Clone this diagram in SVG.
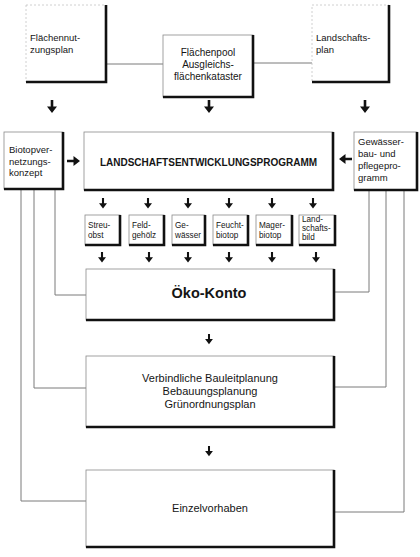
<svg xmlns="http://www.w3.org/2000/svg" xmlns:xlink="http://www.w3.org/1999/xlink" width="420" height="557" viewBox="0 0 420 557">
<style>
text{font-family:"Liberation Sans",Arial,sans-serif;fill:#151515}
.box{fill:#fff;stroke:#8a8a8a;stroke-width:0.8}
.faint{fill:#fff;stroke:#c4c4c4;stroke-width:0.8;stroke-dasharray:2 2}
.sh{fill:none;stroke:#111;stroke-width:2.6}
.con{fill:none;stroke:#7a7a7a;stroke-width:1}
.arr{fill:#111}
.t9{font-size:9.5px}
.t10{font-size:10px}
.t8{font-size:8.2px}
.t11{font-size:11px}
.c{text-anchor:middle}
</style>
<defs>
<path id="ad" d="M-1.3,0 H1.3 V6.5 H5 L0,13 L-5,6.5 H-1.3 Z"/>
</defs>
<rect width="420" height="557" fill="#fff"/>

<g id="connectors">
<path class="con" d="M106,64 H163 M253,63 H312"/>
<path class="con" d="M21,189 V501 H86 M34,189 V388 H86 M55,189 V295 H86"/>
<path class="con" d="M404,190 V512 H334 M386,190 V387 H334 M369,190 V292 H334"/>
<g class="arr">
<use xlink:href="#ad" transform="translate(52,100)"/>
<use xlink:href="#ad" transform="translate(209,100)"/>
<use xlink:href="#ad" transform="translate(365,100)"/>
<use xlink:href="#ad" transform="translate(67,161) rotate(-90)"/>
<use xlink:href="#ad" transform="translate(352,159) rotate(90)"/>
<use xlink:href="#ad" transform="translate(103,198) scale(0.8)"/>
<use xlink:href="#ad" transform="translate(148,198) scale(0.8)"/>
<use xlink:href="#ad" transform="translate(188,198) scale(0.8)"/>
<use xlink:href="#ad" transform="translate(229,198) scale(0.8)"/>
<use xlink:href="#ad" transform="translate(272,198) scale(0.8)"/>
<use xlink:href="#ad" transform="translate(313,198) scale(0.8)"/>
<use xlink:href="#ad" transform="translate(102,252) scale(0.8)"/>
<use xlink:href="#ad" transform="translate(149,252) scale(0.8)"/>
<use xlink:href="#ad" transform="translate(188,252) scale(0.8)"/>
<use xlink:href="#ad" transform="translate(229,252) scale(0.8)"/>
<use xlink:href="#ad" transform="translate(272,252) scale(0.8)"/>
<use xlink:href="#ad" transform="translate(316,252) scale(0.8)"/>
<use xlink:href="#ad" transform="translate(209,334) scale(0.78)"/>
<use xlink:href="#ad" transform="translate(209,446) scale(0.78)"/>
</g>
</g>

<g id="flaechennutzungsplan">
<rect class="faint" x="26" y="5" width="80" height="77"/>
<path class="sh" d="M106,5 V82 H26"/>
<text class="t9" x="30" y="41">Flächennut-</text>
<text class="t9" x="30" y="53">zungsplan</text>
</g>

<g id="flaechenpool">
<rect class="box" x="163" y="35" width="90" height="62"/>
<path class="sh" d="M253,35 V97 H163"/>
<text class="t10 c" x="208" y="56">Flächenpool</text>
<text class="t10 c" x="208" y="68">Ausgleichs-</text>
<text class="t10 c" x="208" y="80">flächenkataster</text>
</g>

<g id="landschaftsplan">
<rect class="faint" x="312" y="5" width="77" height="77"/>
<path class="sh" d="M389,5 V82 H312"/>
<text class="t9" x="316" y="41">Landschafts-</text>
<text class="t9" x="316" y="53">plan</text>
</g>

<g id="biotopvernetzungskonzept">
<rect class="box" x="4" y="132" width="59" height="57"/>
<path class="sh" d="M63,132 V189 H4"/>
<text class="t9" x="9" y="153">Biotopver-</text>
<text class="t9" x="9" y="164.5">netzungs-</text>
<text class="t9" x="9" y="176">konzept</text>
</g>

<g id="landschaftsentwicklungsprogramm">
<rect class="box" x="84" y="132" width="249" height="58"/>
<path class="sh" d="M333,132 V190 H84"/>
<text class="t10 c" x="208.5" y="166" font-weight="bold">LANDSCHAFTSENTWICKLUNGSPROGRAMM</text>
</g>

<g id="gewaesserbau">
<rect class="box" x="354" y="132" width="63" height="58"/>
<path class="sh" d="M417,132 V190 H354"/>
<text class="t9" x="358" y="145">Gewässer-</text>
<text class="t9" x="358" y="157">bau- und</text>
<text class="t9" x="358" y="169">pflegepro-</text>
<text class="t9" x="358" y="181">gramm</text>
</g>

<g id="streuobst">
<rect class="box" x="85" y="215" width="35" height="30"/>
<path class="sh" d="M120,215 V245 H85"/>
<text class="t8" x="88" y="228">Streu-</text>
<text class="t8" x="88" y="238">obst</text>
</g>
<g id="feldgehoelz">
<rect class="box" x="129" y="215" width="35" height="30"/>
<path class="sh" d="M164,215 V245 H129"/>
<text class="t8" x="132" y="228">Feld-</text>
<text class="t8" x="132" y="238">gehölz</text>
</g>
<g id="gewaesser">
<rect class="box" x="172" y="215" width="33" height="30"/>
<path class="sh" d="M205,215 V245 H172"/>
<text class="t8" x="175" y="228">Ge-</text>
<text class="t8" x="175" y="238">wässer</text>
</g>
<g id="feuchtbiotop">
<rect class="box" x="213" y="215" width="35" height="30"/>
<path class="sh" d="M248,215 V245 H213"/>
<text class="t8" x="216" y="228">Feucht-</text>
<text class="t8" x="216" y="238">biotop</text>
</g>
<g id="magerbiotop">
<rect class="box" x="256" y="215" width="36" height="30"/>
<path class="sh" d="M292,215 V245 H256"/>
<text class="t8" x="259" y="228">Mager-</text>
<text class="t8" x="259" y="238">biotop</text>
</g>
<g id="landschaftsbild">
<rect class="box" x="299" y="215" width="36" height="30"/>
<path class="sh" d="M335,215 V245 H299"/>
<text class="t8" x="302" y="222">Land-</text>
<text class="t8" x="302" y="231">schafts-</text>
<text class="t8" x="302" y="240">bild</text>
</g>

<g id="oekokonto">
<rect class="box" x="86" y="269" width="248" height="51"/>
<path class="sh" d="M334,269 V320 H86"/>
<text class="c" x="209" y="298" font-size="14.5" font-weight="bold">Öko-Konto</text>
</g>

<g id="bauleitplanung">
<rect class="box" x="86" y="356" width="248" height="71"/>
<path class="sh" d="M334,356 V427 H86"/>
<text class="t11 c" x="210" y="382">Verbindliche Bauleitplanung</text>
<text class="t11 c" x="210" y="395">Bebauungsplanung</text>
<text class="t11 c" x="210" y="408">Grünordnungsplan</text>
</g>

<g id="einzelvorhaben">
<rect class="box" x="86" y="470" width="248" height="77"/>
<path class="sh" d="M334,470 V547 H86"/>
<text class="t11 c" x="210" y="512">Einzelvorhaben</text>
</g>
</svg>
